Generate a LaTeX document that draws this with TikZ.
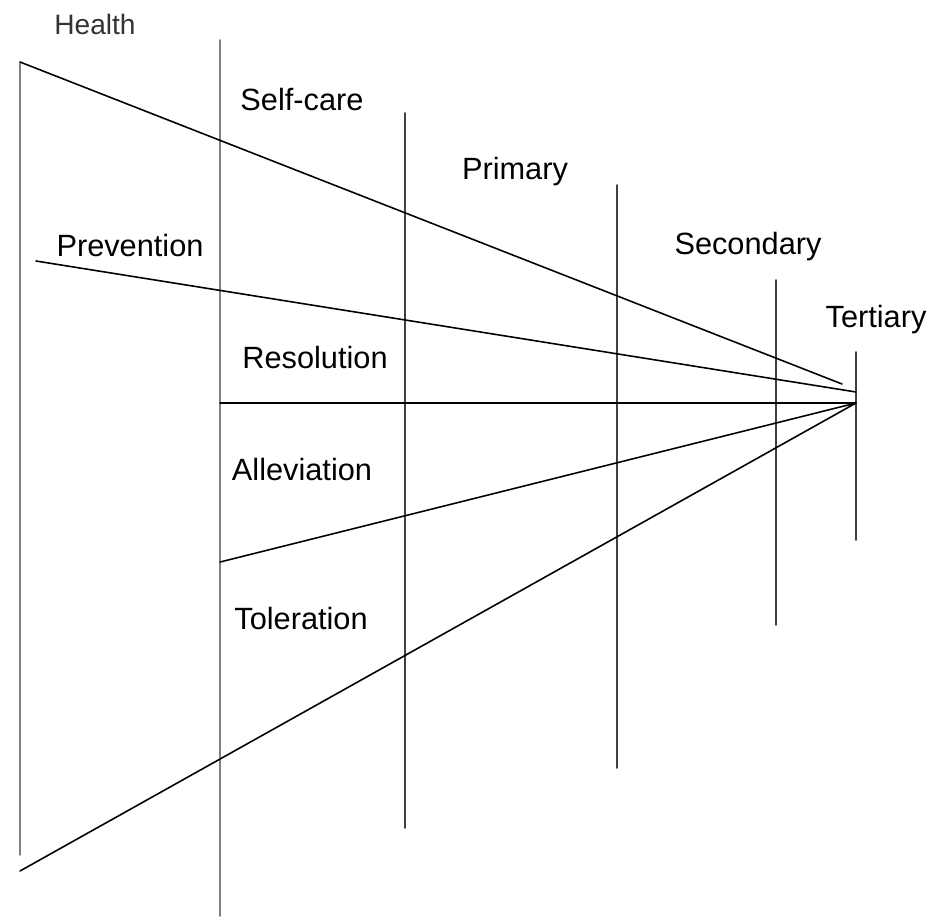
\documentclass[tikz,border=0pt]{standalone}
\usepackage{fontspec}
\setmainfont{Liberation Sans}
\begin{document}
\begin{tikzpicture}[x = .02cm, y = -.02cm, line cap = round, line width = .9pt,
	lbl/.style = {font = \fontsize{17.5}{20}\selectfont, inner sep = 0pt},
	bar/.style = {black!75},
	ray/.style = {black}]
	\useasboundingbox (0,0) rectangle (935,916);
	\path 
	(20,62) coordinate (H1)
	(20,855) coordinate (H2)
	(220,40) coordinate (S1)
	(220,916) coordinate (S2)
	(405,113) coordinate (P1)
	(405,828) coordinate (P2)
	(617,185) coordinate (C1)
	(617,768) coordinate (C2)
	(776,280) coordinate (D1)
	(776,625) coordinate (D2)
	(856,352) coordinate (T1)
	(856,540) coordinate (T2)
	(856,403) coordinate (T)
	(842,384) coordinate (Hend)
	(36,261) coordinate (Pv)
	(856,392) coordinate (Pend)
	(220,403) coordinate (R)
	(220,562) coordinate (A)
	(20,871) coordinate (Tol)
	;
	% levels of care
	\draw[bar, gray] (H1)--(H2) (S1)--(S2);
	\draw[bar] (P1)--(P2) (C1)--(C2) (D1)--(D2) (T1)--(T2);
	% outcomes
	\draw[ray] 
	(H1)--(Hend)
	(Pv)--(Pend)
	(R)--(T)
	(A)--(T)
	(Tol)--(T)
	;
	\node[lbl, font = \fontsize{16}{19}\selectfont, text = black!80] (health) at (95,24) {Health};
	\node[lbl] (selfcare) at (302,100) {Self-care};
	\node[lbl] (primary) at (515,172) {Primary};
	\node[lbl] (secondary) at (748,247) {Secondary};
	\node[lbl] (tertiary) at (876,320) {Tertiary};
	\node[lbl] (prevention) at (130,246) {Prevention};
	\node[lbl] (resolution) at (315,358) {Resolution};
	\node[lbl] (alleviation) at (302,470) {Alleviation};
	\node[lbl] (toleration) at (301,618) {Toleration};
\end{tikzpicture}
\end{document}
